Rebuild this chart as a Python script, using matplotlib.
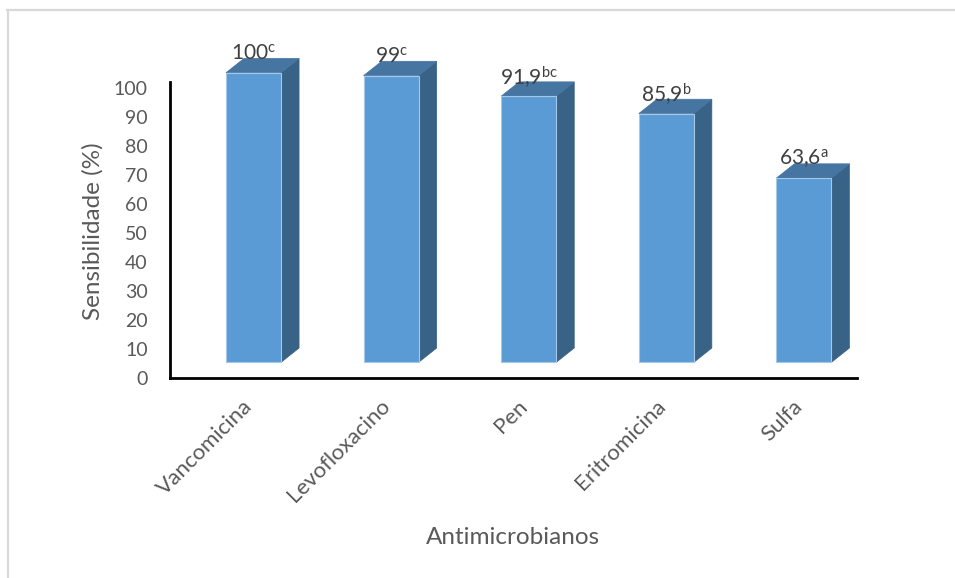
import matplotlib
matplotlib.use("Agg")
import matplotlib.pyplot as plt
from matplotlib.patches import Polygon
from matplotlib.lines import Line2D

# Data
categories = ["Vancomicina", "Levofloxacino", "Pen", "Eritromicina", "Sulfa"]
sensibilidade = [100, 99, 91.9, 85.9, 63.6]
letras = ["c", "c", "bc", "b", "a"]
y_ticks = [0, 10, 20, 30, 40, 50, 60, 70, 80, 90, 100]

plt.rcParams["font.family"] = ["Lato", "DejaVu Sans"]
plt.rcParams["mathtext.fontset"] = "custom"
plt.rcParams["mathtext.rm"] = "Lato"
plt.rcParams["mathtext.it"] = "Lato:italic"
plt.rcParams["mathtext.bf"] = "Lato:bold"

W, H, DPI = 955, 578, 100
fig = plt.figure(figsize=(W / DPI, H / DPI), dpi=DPI)

# axes box in pixels: x 170..857, y 82..378 (from top)
ax = fig.add_axes([170 / W, 1 - 378 / H, (857 - 170) / W, (378 - 82) / H])
ax.set_xlim(-0.607, 4.386)
ax.set_ylim(1.2, 102.2)

front_c = "#5B9BD5"
top_c = "#4675A2"
side_c = "#386286"
edge_c = "#A7C7E7"

base = 5.4      # floor lift of the 3-D boxes
width = 0.40
dx = 0.131      # depth shift (x data units)
dy = 4.95       # depth shift (y data units)

x = list(range(len(categories)))
bars = ax.bar(x, sensibilidade, width=width, bottom=base, color=front_c,
              edgecolor=edge_c, linewidth=0.8, clip_on=False, zorder=3)

for rect, v, let in zip(bars, sensibilidade, letras):
    x0 = rect.get_x()
    x1 = x0 + rect.get_width()
    y0 = rect.get_y()
    y1 = y0 + rect.get_height()
    side = Polygon([(x1, y0), (x1 + dx, y0 + dy), (x1 + dx, y1 + dy), (x1, y1)],
                   closed=True, facecolor=side_c, edgecolor=side_c, lw=0.5,
                   clip_on=False, zorder=2)
    top = Polygon([(x0, y1), (x0 + dx, y1 + dy), (x1 + dx, y1 + dy), (x1, y1)],
                  closed=True, facecolor=top_c, edgecolor=top_c, lw=0.5,
                  clip_on=False, zorder=2)
    ax.add_patch(side)
    ax.add_patch(top)
    txt = f"{v:g}".replace(".", ",")
    ax.text(x0 + width / 2, y1 + 6.6, txt + r"$^{\mathrm{" + let + "}}$",
            ha="center", va="center", fontsize=15, color="#404040",
            clip_on=False, zorder=5)

# axes styling
for s in ["top", "right"]:
    ax.spines[s].set_visible(False)
for s in ["left", "bottom"]:
    ax.spines[s].set_linewidth(2.0)
    ax.spines[s].set_color("black")
ax.set_yticks(y_ticks)
ax.set_yticklabels([str(t) for t in y_ticks])
ax.tick_params(axis="y", length=0, pad=16, labelsize=14, labelcolor="#595959")
ax.set_xticks([])

for i, name in enumerate(categories):
    ax.annotate(name, xy=(i, 0), xycoords=("data", "axes fraction"),
                xytext=(-8, -13), textcoords="offset points",
                rotation=45, ha="right", va="top", rotation_mode="anchor",
                fontsize=16, color="#595959")

fig.text(513 / W, 1 - 538 / H, "Antimicrobianos", ha="center", va="center",
         fontsize=17.5, color="#595959")
fig.text(93 / W, 1 - 231 / H, "Sensibilidade (%)", ha="center", va="center",
         rotation=90, fontsize=17.5, color="#595959")

# outer chart frame (top and left edges)
fig.add_artist(Line2D([7 / W, 1], [1 - 9.5 / H, 1 - 9.5 / H],
                      transform=fig.transFigure, color="#D9D9D9", lw=1.6))
fig.add_artist(Line2D([7.5 / W, 7.5 / W], [0, 1 - 9.5 / H],
                      transform=fig.transFigure, color="#D9D9D9", lw=1.6))

fig.savefig("out.png", dpi=DPI)
